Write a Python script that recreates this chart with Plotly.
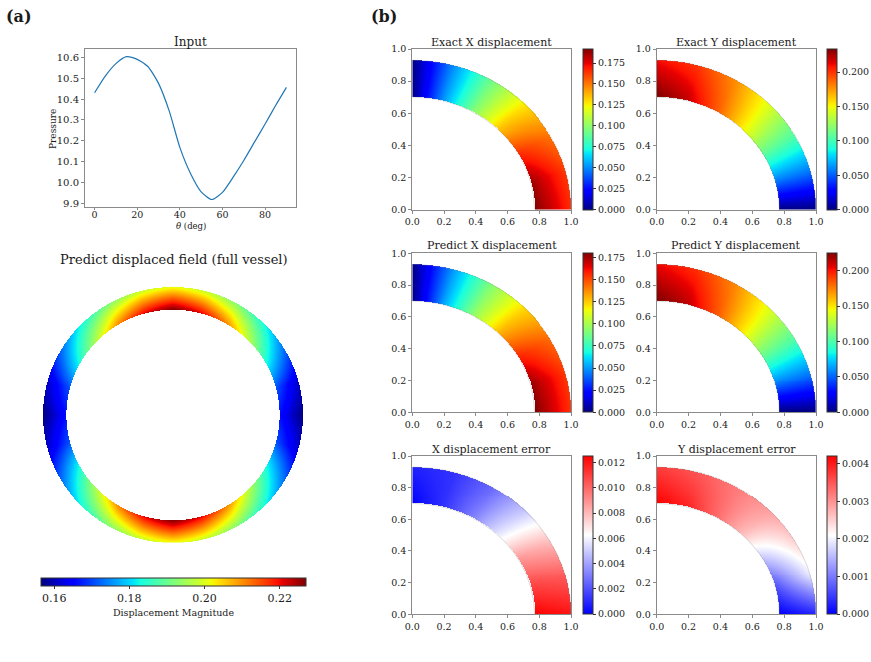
import numpy as np
import plotly.graph_objects as go

W, H = 871, 662

# ---------------- data ----------------
theta_deg = [0, 5, 10, 15, 20, 25, 30, 35, 40, 45, 50, 55, 60, 65, 70, 75, 80, 85, 90]
pressure = [10.43, 10.51, 10.57, 10.603, 10.59, 10.556, 10.475, 10.343, 10.168, 10.043,
            9.955, 9.918, 9.952, 10.025, 10.105, 10.193, 10.28, 10.37, 10.456]
pressure_ticks = [9.9, 10.0, 10.1, 10.2, 10.3, 10.4, 10.5, 10.6]
theta_ticks = [0, 20, 40, 60, 80]

# field tables: parametric angle (deg) x {inner edge, outer edge}
t_nodes = [0, 15, 30, 45, 60, 75, 90]
exact_x_inner = [0.192, 0.186, 0.166, 0.136, 0.098, 0.053, 0.000]
exact_x_outer = [0.166, 0.163, 0.151, 0.127, 0.093, 0.050, 0.000]
pred_x_inner = [0.1795, 0.175, 0.157, 0.130, 0.095, 0.052, 0.000]
pred_x_outer = [0.154, 0.153, 0.143, 0.122, 0.091, 0.049, 0.000]
exact_y_inner = [0.000, 0.058, 0.110, 0.152, 0.190, 0.220, 0.234]
exact_y_outer = [0.000, 0.056, 0.105, 0.146, 0.178, 0.200, 0.210]
pred_y_inner = [0.000, 0.056, 0.106, 0.147, 0.183, 0.212, 0.2245]
pred_y_outer = [0.000, 0.054, 0.101, 0.141, 0.172, 0.193, 0.203]
err_x_inner = [0.0125, 0.0108, 0.0088, 0.0058, 0.0032, 0.0012, 0.0000]
err_x_outer = [0.0120, 0.0103, 0.0078, 0.0048, 0.0025, 0.0012, 0.0008]
err_y_inner = [0.0000, 0.0007, 0.0016, 0.0026, 0.0033, 0.0039, 0.0042]
err_y_outer = [0.0003, 0.0019, 0.0025, 0.0029, 0.0032, 0.0035, 0.0037]
# full vessel displacement magnitude (same for each quadrant, mirrored)
ring_inner = [0.166, 0.171, 0.184, 0.197, 0.211, 0.221, 0.227]
ring_outer = [0.1565, 0.161, 0.172, 0.183, 0.192, 0.198, 0.201]

titles = ["Exact X displacement", "Exact Y displacement",
          "Predict X displacement", "Predict Y displacement",
          "X displacement error", "Y displacement error"]
cb_ticks = [
    [0, 0.025, 0.05, 0.075, 0.1, 0.125, 0.15, 0.175],
    [0, 0.05, 0.1, 0.15, 0.2],
    [0, 0.025, 0.05, 0.075, 0.1, 0.125, 0.15, 0.175],
    [0, 0.05, 0.1, 0.15, 0.2],
    [0, 0.002, 0.004, 0.006, 0.008, 0.010, 0.012],
    [0, 0.001, 0.002, 0.003, 0.004],
]
ring_ticks = [0.16, 0.18, 0.20, 0.22]
quarter_ticks = [0.0, 0.2, 0.4, 0.6, 0.8, 1.0]

# geometry (semi-axes of inner / outer edge)
q_geom = (0.77, 1.0, 0.70, 0.93)
r_geom = (0.82, 1.0, 0.81, 0.985)

# ---------------- colour maps ----------------
def mpl_jet():
    r = [(0, 0), (0.35, 0), (0.66, 1), (0.89, 1), (1, 0.5)]
    g = [(0, 0), (0.125, 0), (0.375, 1), (0.64, 1), (0.91, 0), (1, 0)]
    b = [(0, 0.5), (0.11, 1), (0.34, 1), (0.65, 0), (1, 0)]
    pts = sorted(set([p for p, _ in r + g + b]))
    cs = []
    for p in pts:
        rr = np.interp(p, *zip(*r)); gg = np.interp(p, *zip(*g)); bb = np.interp(p, *zip(*b))
        cs.append([p, f"rgb({int(round(rr*255))},{int(round(gg*255))},{int(round(bb*255))})"])
    return cs

JET = mpl_jet()
BWR = [[0, "rgb(0,0,255)"], [0.5, "rgb(255,255,255)"], [1, "rgb(255,0,0)"]]

# ---------------- helpers ----------------
def ann_coords(xg, yg, a0, a1, b0, b1):
    X, Y = np.meshgrid(xg, yg)

    def f(s):
        a = a0 + (a1 - a0) * s
        b = b0 + (b1 - b0) * s
        return (X / a) ** 2 + (Y / b) ** 2 - 1

    inside = (f(np.zeros_like(X)) >= 0) & (f(np.ones_like(X)) <= 0)
    lo = np.zeros_like(X); hi = np.ones_like(X)
    for _ in range(30):
        mid = (lo + hi) / 2
        fm = f(mid)
        lo = np.where(fm > 0, mid, lo)
        hi = np.where(fm > 0, hi, mid)
    s = (lo + hi) / 2
    a = a0 + (a1 - a0) * s
    b = b0 + (b1 - b0) * s
    t = np.degrees(np.arctan2(np.abs(Y) / b, np.abs(X) / a))
    return s, t, inside

def field(s, t, inside, inner, outer):
    vi = np.interp(t, t_nodes, inner)
    vo = np.interp(t, t_nodes, outer)
    z = vi + (vo - vi) * s
    return np.where(inside, z, np.nan)

def px_x(p):
    return p / W

def px_y(p):
    return 1 - p / H

FONT = "DejaVu Serif"
SPINE = "#8a8a8a"

def note(text, x, y, size, angle=0, anchor="center"):
    return dict(text=text, x=px_x(x), y=px_y(y), xref="paper", yref="paper",
                xanchor=anchor, yanchor="middle", textangle=angle,
                font=dict(family=FONT, size=size, color="#1a1a1a"), showarrow=False)

fig = go.Figure()
annotations = []

# ---------------- (a) Input curve ----------------
fig.add_trace(go.Scatter(x=theta_deg, y=pressure, mode="lines",
                         line=dict(color="#1f77b4", width=1.2, shape="spline", smoothing=0.6),
                         xaxis="x", yaxis="y", showlegend=False, hoverinfo="skip"))

layout = dict(
    width=W, height=H, autosize=False,
    margin=dict(l=0, r=0, t=0, b=0, autoexpand=False),
    paper_bgcolor="white", plot_bgcolor="white",
    font=dict(family=FONT, color="#222", size=9),
    showlegend=False,
)

axis_common = dict(showgrid=False, zeroline=False, showline=True, mirror=True,
                   linecolor=SPINE, linewidth=1, ticks="outside", ticklen=3,
                   tickcolor=SPINE, tickfont=dict(family=FONT, size=9.5, color="#222"))

layout["xaxis"] = dict(axis_common, domain=[px_x(85), px_x(296)], range=[-4.5, 94.5],
                       tickvals=theta_ticks, anchor="y", ticklen=2, ticklabelstandoff=-3,
                       tickfont=dict(family=FONT, size=9.5, color="#222"))
layout["yaxis"] = dict(axis_common, domain=[px_y(207), px_y(49)], range=[9.882, 10.64],
                       tickvals=pressure_ticks, tickformat=".1f", anchor="x",
                       tickfont=dict(family=FONT, size=10, color="#222"))

annotations += [
    note("<b>(a)</b>", 4, 17, 16, anchor="left"),
    note("<b>(b)</b>", 369, 16, 16, anchor="left"),
    note("Input", 190.5, 42, 12),
    note("Pressure", 53, 129, 9, angle=-90),
    note("<i>θ</i> (deg)", 190.5, 225.5, 8.5),
    note("Predict displaced field (full vessel)", 173.5, 259, 13),
]

# ---------------- ring (full vessel) ----------------
nx, ny = 260, 256
rx = np.linspace(-1 + 1 / nx, 1 - 1 / nx, nx)
ry = np.linspace(-0.985 + 0.985 / ny, 0.985 - 0.985 / ny, ny)
s, t, inside = ann_coords(rx, ry, *r_geom)
zr = field(s, t, inside, ring_inner, ring_outer)
rmin, rmax = min(ring_outer + ring_inner), max(ring_outer + ring_inner)
fig.add_trace(go.Heatmap(
    x=rx, y=ry, z=zr, colorscale=JET, zmin=rmin, zmax=rmax,
    xaxis="x2", yaxis="y2", hoverinfo="skip",
    colorbar=dict(orientation="h", x=px_x(173.5), xanchor="center",
                  y=px_y(577.7), yanchor="top", len=265 / W, lenmode="fraction",
                  thickness=8, thicknessmode="pixels", xpad=0, ypad=0,
                  outlinecolor="#333", outlinewidth=1,
                  tickvals=ring_ticks, tickformat=".2f", ticks="outside", ticklen=3,
                  tickcolor="#333",
                  tickfont=dict(family=FONT, size=11, color="#222"),
                  title=dict(text="Displacement Magnitude", side="bottom",
                             font=dict(family=FONT, size=9.5, color="#222"))),
))
layout["xaxis2"] = dict(domain=[px_x(43), px_x(303)], range=[-1, 1], visible=False,
                        anchor="y2")
layout["yaxis2"] = dict(domain=[px_y(542.7), px_y(286.7)], range=[-0.985, 0.985],
                        visible=False, anchor="x2")

# ---------------- (b) six quarter fields ----------------
tables = [
    (exact_x_inner, exact_x_outer, JET),
    (exact_y_inner, exact_y_outer, JET),
    (pred_x_inner, pred_x_outer, JET),
    (pred_y_inner, pred_y_outer, JET),
    (err_x_inner, err_x_outer, BWR),
    (err_y_inner, err_y_outer, BWR),
]
col_x = [(412.3, 571.0), (656.7, 816.0)]
cb_x = [582.7, 826.7]
row_y = [(49.0, 209.5), (253.3, 412.3), (456.0, 614.3)]
title_y = [42.3, 245.7, 449.0]

nq = 160
qx = (np.arange(nq) + 0.5) / nq
qs, qt, qin = ann_coords(qx, qx, *q_geom)
arc_t = np.radians(np.linspace(0, 90, 181))

for k, (inner, outer, cmap) in enumerate(tables):
    r, c = divmod(k, 2)
    ax = k + 3
    xa, ya = f"x{ax}", f"y{ax}"
    z = field(qs, qt, qin, inner, outer)
    zmin, zmax = min(inner + outer), max(inner + outer)
    y0, y1 = row_y[r]
    fig.add_trace(go.Heatmap(
        x=qx, y=qx, z=z, colorscale=cmap, zmin=zmin, zmax=zmax,
        xaxis=xa, yaxis=ya, hoverinfo="skip",
        colorbar=dict(x=px_x(cb_x[c]), xanchor="left", y=px_y((y0 + y1) / 2),
                      yanchor="middle", len=(y1 - y0) / H, lenmode="fraction",
                      thickness=10, thicknessmode="pixels", xpad=0, ypad=0,
                      outlinecolor="#333", outlinewidth=1,
                      tickvals=cb_ticks[k], tickformat=".3f", ticks="outside",
                      ticklen=3, tickcolor="#333",
                      tickfont=dict(family=FONT, size=9.5, color="#222")),
    ))
    for (aa, bb) in [(q_geom[0], q_geom[2]), (q_geom[1], q_geom[3])]:
        fig.add_trace(go.Scatter(x=aa * np.cos(arc_t), y=bb * np.sin(arc_t), mode="lines",
                                 line=dict(color="rgba(140,140,140,0.55)", width=0.6),
                                 xaxis=xa, yaxis=ya, hoverinfo="skip", showlegend=False))
    layout[f"xaxis{ax}"] = dict(axis_common, domain=[px_x(col_x[c][0]), px_x(col_x[c][1])],
                                range=[0, 1], tickvals=quarter_ticks, tickformat=".1f",
                                anchor=ya)
    layout[f"yaxis{ax}"] = dict(axis_common, domain=[px_y(y1), px_y(y0)],
                                range=[0, 1], tickvals=quarter_ticks, tickformat=".1f",
                                anchor=xa)
    annotations.append(note(titles[k], (col_x[c][0] + col_x[c][1]) / 2, title_y[r], 11))

layout["annotations"] = annotations
fig.update_layout(**layout)
fig.write_html("out.html")
